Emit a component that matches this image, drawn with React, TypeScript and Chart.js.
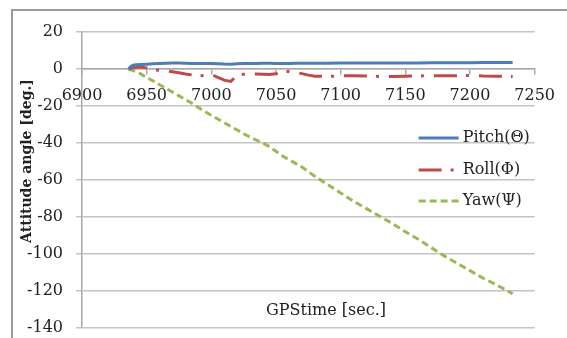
import React, { useEffect, useRef } from "react";
import { Chart, registerables } from "chart.js";

Chart.register(...registerables);

const gpsTime = [
  6936, 6938, 6940, 6945, 6950, 6955, 6960, 6965, 6970, 6975, 6980, 6985, 6990, 6995,
  7000, 7005, 7010, 7015, 7020, 7025, 7030, 7035, 7040, 7045, 7050, 7055, 7060, 7065,
  7070, 7075, 7080, 7090, 7100, 7110, 7120, 7130, 7140, 7150, 7160, 7170, 7180, 7190,
  7200, 7210, 7220, 7233,
];

const pitch = [
  0, 1.5, 2.2, 2.4, 2.6, 2.8, 3, 3.1, 3.2, 3.2, 3.1, 3, 3, 3,
  3, 2.9, 2.7, 2.6, 2.9, 3, 3, 3, 3.1, 3.1, 3, 3, 3, 3.1,
  3.1, 3.1, 3.1, 3.1, 3.2, 3.2, 3.2, 3.2, 3.3, 3.3, 3.3, 3.4, 3.4, 3.4,
  3.4, 3.5, 3.5, 3.5,
];

const roll = [
  0, 0.4, 0.8, 1.1, 0.6, -0.3, -0.7, -1, -1.5, -2, -2.7, -3.2, -3.7, -3.5,
  -3, -4.5, -6, -6.7, -3.5, -2.8, -2.7, -2.7, -2.8, -3, -2.6, -1.5, -1.3, -1.8,
  -2.5, -3.3, -3.9, -4, -3.7, -3.6, -3.8, -4, -4, -3.9, -3.8, -3.6, -3.6, -3.6,
  -3.5, -3.8, -3.9, -4,
];

const yaw = [
  0, -0.5, -1, -2.5, -4.5, -6.5, -8.5, -10.5, -12.5, -14.5, -16.5, -18.5, -20.8, -23,
  -25, -27, -29, -31, -33, -35, -36.8, -38.5, -40, -42, -44.5, -47, -49, -51,
  -53, -55.5, -58, -62.5, -67, -71.5, -75.5, -79.5, -83.5, -88, -92, -96.5, -101, -105,
  -109, -113, -116.5, -121.5,
];

const seriesNames = ["Pitch(\u0398)", "Roll(\u03A6)", "Yaw(\u03A8)"];
const seriesColors = ["#4a7ebb", "#be4b48", "#98b954"];
const seriesDashes: number[][] = [[], [23, 9, 3, 10], [7, 4]];
const seriesDashOffsets = [0, 4, 0];

const xTitle = "GPStime [sec.]";
const yTitle = "Attitude angle [deg.]";

const FONT = "'DejaVu Serif', serif";

const extrasPlugin = {
  id: "extras",
  beforeDraw(chart: any) {
    const ctx = chart.ctx;
    ctx.save();
    ctx.strokeStyle = "#9a9a9a";
    ctx.lineWidth = 2;
    ctx.beginPath();
    ctx.moveTo(12, 340);
    ctx.lineTo(12, 10);
    ctx.lineTo(570, 10);
    ctx.stroke();
    ctx.restore();
  },
  afterDraw(chart: any) {
    const ctx = chart.ctx;
    const area = chart.chartArea;
    ctx.save();
    ctx.fillStyle = "#222";
    ctx.textAlign = "center";
    ctx.textBaseline = "middle";
    ctx.font = `16px ${FONT}`;
    ctx.fillText(xTitle, 326, area.bottom - 17);

    ctx.save();
    ctx.translate(27, 161);
    ctx.rotate(-Math.PI / 2);
    ctx.font = `bold 14px ${FONT}`;
    ctx.fillText(yTitle, 0, 0);
    ctx.restore();

    // legend
    const lx = area.right - 116;
    const ys = [138, 170, 201];
    chart.data.datasets.forEach((ds: any, i: number) => {
      ctx.save();
      ctx.strokeStyle = ds.borderColor;
      ctx.lineWidth = 3;
      ctx.lineCap = "butt";
      ctx.setLineDash(ds.borderDash || []);
      ctx.beginPath();
      ctx.moveTo(lx, ys[i]);
      ctx.lineTo(lx + 40, ys[i]);
      ctx.stroke();
      ctx.restore();
      ctx.textAlign = "left";
      ctx.font = `16px ${FONT}`;
      ctx.fillStyle = "#222";
      ctx.fillText(ds.label, lx + 44, ys[i]);
    });
    ctx.restore();
  },
};

export default function App() {
  const ref = useRef<HTMLCanvasElement | null>(null);

  useEffect(() => {
    if (!ref.current) return;
    const values = [pitch, roll, yaw];
    const chart = new Chart(ref.current, {
      type: "line",
      data: {
        datasets: values.map((vals, i) => ({
          label: seriesNames[i],
          data: gpsTime.map((t, j) => ({ x: t, y: vals[j] })),
          borderColor: seriesColors[i],
          backgroundColor: seriesColors[i],
          borderWidth: 3,
          borderDash: seriesDashes[i],
          borderDashOffset: seriesDashOffsets[i],
          borderCapStyle: "butt",
          pointRadius: 0,
          tension: 0,
          fill: false,
        })),
      },
      options: {
        animation: false,
        responsive: false,
        devicePixelRatio: 1,
        layout: { padding: { left: 0, right: 26, top: 32, bottom: 10 } },
        plugins: {
          legend: { display: false },
          tooltip: { enabled: false },
        },
        scales: {
          x: {
            type: "linear",
            position: { y: 0 } as any,
            min: 6900,
            max: 7250,
            ticks: {
              stepSize: 50,
              padding: 12,
              color: "#222",
              font: { family: FONT, size: 16 },
              maxRotation: 0,
              autoSkip: false,
              callback: (v: any) => String(v),
            },
            grid: {
              drawOnChartArea: false,
              drawTicks: true,
              tickLength: 5,
              color: "#a8a8a8",
              lineWidth: 1.5,
            },
            border: { display: true, color: "#a8a8a8", width: 1.5 },
            afterFit(scale: any) {
              scale.height = 0;
              scale.paddingTop = 0;
              scale.paddingBottom = 0;
            },
          },
          y: {
            type: "linear",
            min: -140,
            max: 20,
            ticks: {
              stepSize: 20,
              padding: 13,
              color: "#222",
              font: { family: FONT, size: 16 },
              callback: (v: any) => String(v),
            },
            grid: {
              color: "#c4c4c4",
              lineWidth: 1.5,
              tickLength: 6,
            },
            border: { display: true, color: "#a8a8a8", width: 1.5 },
            afterFit(scale: any) {
              scale.width = 82;
              scale.paddingTop = 0;
              scale.paddingBottom = 0;
            },
          },
        },
      },
      plugins: [extrasPlugin],
    });
    return () => chart.destroy();
  }, []);

  return (
    <div
      style={{
        position: "fixed",
        left: 0,
        top: 0,
        width: 567,
        height: 338,
        overflow: "hidden",
        background: "#fff",
      }}
    >
      <canvas ref={ref} width={567} height={338} style={{ display: "block" }} />
    </div>
  );
}
